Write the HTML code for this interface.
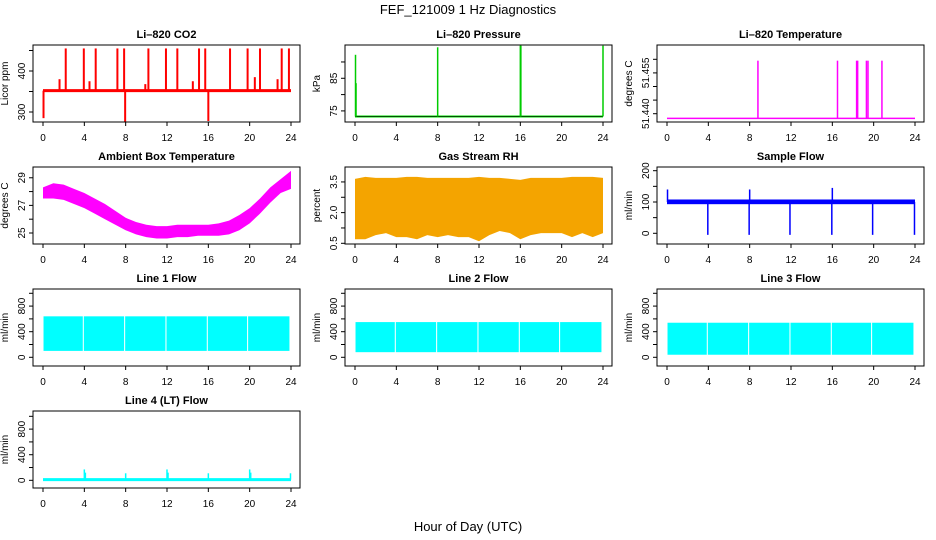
<!DOCTYPE html>
<html><head><meta charset="utf-8"><style>
html,body{margin:0;padding:0;background:#fff;}
svg{display:block;font-family:"Liberation Sans",Arial,sans-serif;}
</style></head><body>
<svg id="chart" width="936" height="540" viewBox="0 0 936 540">
<text x="468" y="14" text-anchor="middle" font-size="13">FEF_121009  1 Hz Diagnostics</text>
<text x="468" y="531" text-anchor="middle" font-size="13">Hour of Day (UTC)</text>
</svg>
<script>
// ---- data ----
var xTicks = [0,4,8,12,16,20,24];
// CO2
var co2Base = 352;
var co2SpikeHours = [0.05,1.6,2.2,3.95,4.5,5.1,7.2,7.85,7.95,9.9,10.2,11.9,13.0,14.5,15.1,15.7,16.0,18.1,19.8,20.5,21.0,22.7,23.1,23.8];
var co2SpikeVals  = [285,380,455,455,375,455,455,455,275,368,455,455,455,375,455,455,278,455,455,385,455,380,455,455];
// Pressure
var presBase = 73.3;
var presSpikeHours = [0.05,0.1,8.0,16.0,16.05,24.0];
var presSpikeVals  = [92.2,83.5,94.5,95,95,95];
// Li-820 temperature
var ltBase = 51.4383;
var ltSpikeHours = [8.8,16.5,18.35,18.45,19.3,19.45,20.8];
var ltSpikeVals  = [51.4595,51.4595,51.4595,51.4595,51.4595,51.4595,51.4595];
// Ambient box temperature (hourly lo/hi)
var ambHours = [0,1,2,3,4,5,6,7,8,9,10,11,12,13,14,15,16,17,18,19,20,21,22,23,24];
var ambLo = [27.5,27.5,27.4,27.1,26.8,26.4,26.0,25.6,25.2,24.9,24.7,24.6,24.6,24.7,24.7,24.8,24.8,24.8,24.9,25.2,25.7,26.4,27.2,27.9,28.2];
var ambHi = [28.3,28.6,28.5,28.2,27.9,27.5,27.1,26.6,26.1,25.8,25.6,25.5,25.5,25.6,25.6,25.6,25.6,25.7,25.9,26.3,26.8,27.5,28.3,28.9,29.5];
// Gas stream RH
var rhHours = [0,1,2,3,4,5,6,7,8,9,10,11,12,13,14,15,16,17,18,19,20,21,22,23,24];
var rhLo = [0.7,0.7,0.9,1.0,0.8,0.8,0.7,0.9,0.8,0.9,0.8,0.8,0.6,0.9,1.1,1.0,0.7,0.9,1.0,1.0,1.0,0.8,1.0,0.8,1.0];
var rhHi = [3.65,3.75,3.7,3.7,3.7,3.75,3.75,3.7,3.7,3.7,3.7,3.7,3.75,3.7,3.7,3.65,3.6,3.7,3.7,3.7,3.7,3.75,3.75,3.75,3.7];
// Sample flow
var sfLo = 93, sfHi = 108;
var sfSpikeHours = [0.05,3.95,7.95,8.0,11.9,15.95,16.0,19.9,23.95];
var sfSpikeVals  = [140,-5,-5,140,-5,-5,145,-5,-5];
// Line flows: segments between gap hours
var flowGaps = [0,3.9,7.9,11.9,15.9,19.8,23.9];
var l1Lo = 100, l1Hi = 640;
var l2Lo = 80, l2Hi = 550;
var l3Lo = 40, l3Hi = 540;
var l4Base = 10;
var l4SpikeHours = [4.0,4.1,8.0,12.0,12.1,16.0,20.0,20.1,23.95];
var l4SpikeVals  = [170,120,110,170,120,110,170,120,110];

// ---- layout ----
var svg = document.getElementById('chart');
var NS = 'http://www.w3.org/2000/svg';
function mk(tag, attrs, parent){ var e=document.createElementNS(NS,tag); for(var k in attrs) e.setAttribute(k,attrs[k]); (parent||svg).appendChild(e); return e; }

function panel(col,row,name,title,ylab,dom,yTicks,yLabels){
  var L=33+312*col, R=300+312*col, T=45+122*row, B=122+122*row;
  var g=mk('g',{});
  
  
  var sx=function(h){ return L+10+h*(248/24); };
  var sy=function(v){ return B-(v-dom[0])/(dom[1]-dom[0])*(B-T); };
  var t=mk('text',{x:(L+R)/2,y:T-7,'text-anchor':'middle','font-size':11,'font-weight':'bold'},g);
  t.textContent=title;
  
  
  var yl=mk('text',{transform:'translate('+(L-25)+','+((T+B)/2)+') rotate(-90)','text-anchor':'middle','font-size':10},g);
  yl.textContent=ylab;
  
  
  var xa=mk('g',{},g);
  
  
  mk('line',{x1:sx(0),x2:sx(24),y1:B,y2:B,stroke:'#000'},xa);
  xTicks.forEach(function(h){
    mk('line',{x1:sx(h),x2:sx(h),y1:B,y2:B+4,stroke:'#000'},xa);
    var tl=mk('text',{x:sx(h),y:B+19,'text-anchor':'middle','font-size':10},xa); tl.textContent=h;
  });
  var ya=mk('g',{},g);
  
  
  mk('line',{x1:L,x2:L,y1:sy(yTicks[0]),y2:sy(yTicks[yTicks.length-1]),stroke:'#000'},ya);
  yTicks.forEach(function(v){
    mk('line',{x1:L-4,x2:L,y1:sy(v),y2:sy(v),stroke:'#000'},ya);
  });
  yLabels.forEach(function(lab){
    var v=parseFloat(lab);
    var tl=mk('text',{transform:'translate('+(L-8)+','+sy(v)+') rotate(-90)','text-anchor':'middle','font-size':10},ya); tl.textContent=lab;
  });
  var plot=mk('g',{},g);
  
  
  mk('rect',{x:L,y:T,width:R-L,height:B-T,fill:'none',stroke:'#000'},g);
  return {g:plot,sx:sx,sy:sy};
}
function spikes(p,base,hours,vals,color,w){
  hours.forEach(function(h,i){
    mk('line',{x1:p.sx(h),x2:p.sx(h),y1:p.sy(base),y2:p.sy(vals[i]),stroke:color,'stroke-width':w||1},p.g);
  });
}
function baseline(p,v,color,w){
  mk('line',{x1:p.sx(0),x2:p.sx(24),y1:p.sy(v),y2:p.sy(v),stroke:color,'stroke-width':w},p.g);
}
function band(p,hours,lo,hi,color){
  var pts=[];
  hours.forEach(function(h,i){ pts.push(p.sx(h)+','+p.sy(hi[i])); });
  for(var i=hours.length-1;i>=0;i--) pts.push(p.sx(hours[i])+','+p.sy(lo[i]));
  mk('polygon',{points:pts.join(' '),fill:color},p.g);
}
function segs(p,gaps,lo,hi,color){
  for(var i=0;i<gaps.length-1;i++){
    var a=gaps[i]+0.05, b=gaps[i+1]-0.05;
    mk('rect',{x:p.sx(a),y:p.sy(hi),width:p.sx(b)-p.sx(a),height:p.sy(lo)-p.sy(hi),fill:color},p.g);
  }
}

var p;
p=panel(0,0,'co2','Li\u2013820 CO2','Licor ppm',[275.6,463.4],[300,350,400,450],['300','400']);
baseline(p,co2Base,'#ff0000',3); spikes(p,co2Base,co2SpikeHours,co2SpikeVals,'#ff0000',2);
p=panel(1,0,'pressure','Li\u2013820 Pressure','kPa',[71.6,95.2],[75,80,85,90],['75','85']);
baseline(p,presBase,'#00dd00',2); baseline(p,presBase,'#000',0.6); spikes(p,presBase,presSpikeHours,presSpikeVals,'#00cc00',1.5);
p=panel(2,0,'li820-temp','Li\u2013820 Temperature','degrees C',[51.43695,51.46526],[51.440,51.445,51.450,51.455,51.460],['51.440','51.455']);
baseline(p,ltBase,'#ff00ff',1.5); spikes(p,ltBase,ltSpikeHours,ltSpikeVals,'#ff00ff',1.5);
p=panel(0,1,'ambient-temp','Ambient Box Temperature','degrees C',[24.203,29.78],[25,26,27,28,29],['25','27','29']);
band(p,ambHours,ambLo,ambHi,'#ff00ff');
p=panel(1,1,'gas-rh','Gas Stream RH','percent',[0.466,4.23],[0.5,1.25,2.0,2.75,3.5],['0.5','2.0','3.5']);
band(p,rhHours,rhLo,rhHi,'#f4a400');
p=panel(2,1,'sample-flow','Sample Flow','ml/min',[-34.2,211.8],[0,50,100,150,200],['0','100','200']);
mk('rect',{x:p.sx(0),y:p.sy(sfHi),width:p.sx(24)-p.sx(0),height:p.sy(sfLo)-p.sy(sfHi),fill:'#0000ff'},p.g);
spikes(p,100,sfSpikeHours,sfSpikeVals,'#0000ff',1.5);
p=panel(0,2,'line1-flow','Line 1 Flow','ml/min',[-136,1067],[0,200,400,600,800,1000],['0','400','800']);
segs(p,flowGaps,l1Lo,l1Hi,'#00ffff');
p=panel(1,2,'line2-flow','Line 2 Flow','ml/min',[-136,1067],[0,200,400,600,800,1000],['0','400','800']);
segs(p,flowGaps,l2Lo,l2Hi,'#00ffff');
p=panel(2,2,'line3-flow','Line 3 Flow','ml/min',[-136,1067],[0,200,400,600,800,1000],['0','400','800']);
segs(p,flowGaps,l3Lo,l3Hi,'#00ffff');
p=panel(0,3,'line4-flow','Line 4 (LT) Flow','ml/min',[-120,1083],[0,200,400,600,800,1000],['0','400','800']);
baseline(p,l4Base,'#00ffff',3); spikes(p,l4Base,l4SpikeHours,l4SpikeVals,'#00ffff',1.5);
</script>
</body></html>
